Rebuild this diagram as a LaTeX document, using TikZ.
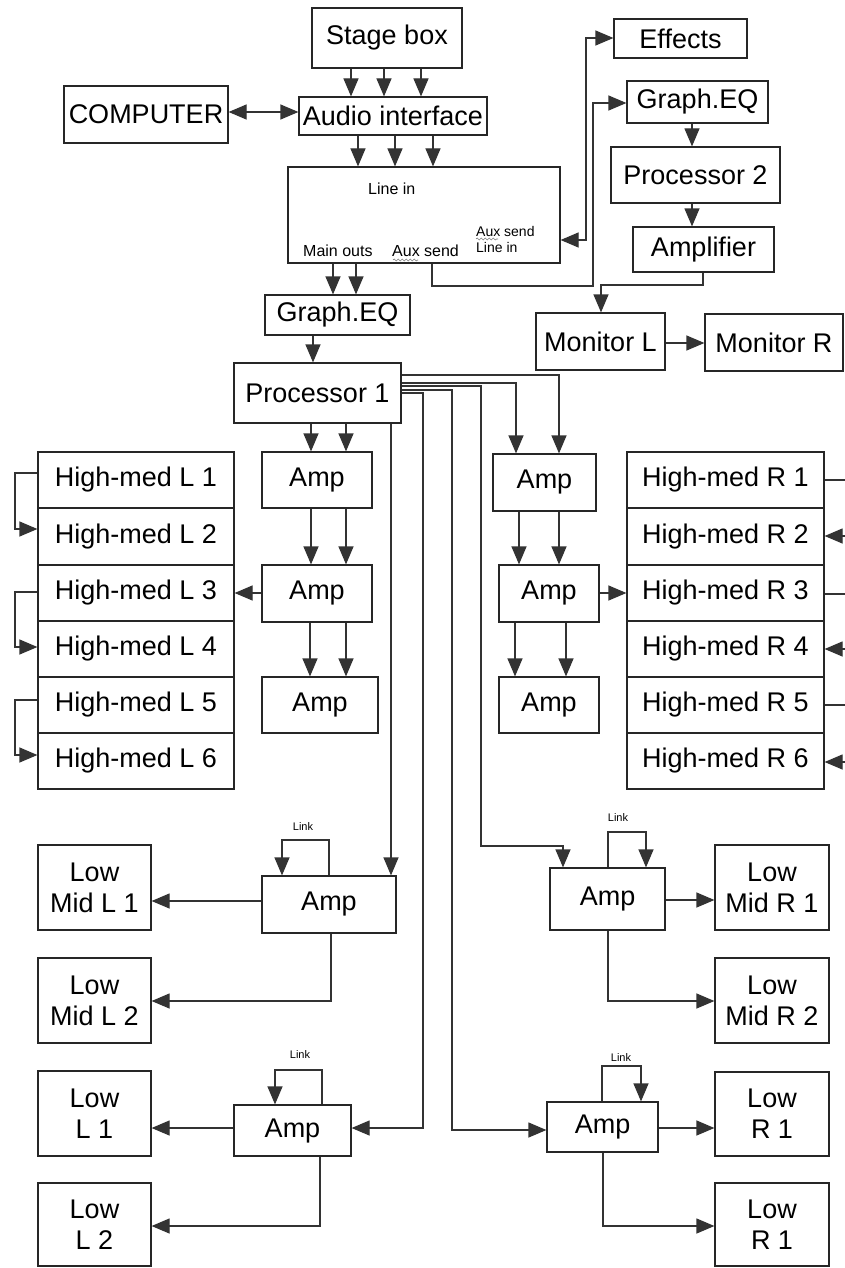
\documentclass[tikz,border=0pt]{standalone}
\usepackage{fontspec}
\setmainfont{Liberation Sans}
\usetikzlibrary{arrows.meta,decorations.pathmorphing}
\begin{document}
\begin{tikzpicture}[x=1pt,y=-1pt,
  box/.style={draw=black!85, line width=1.2pt, inner sep=0pt, font=\fontsize{27}{31}\selectfont, align=center},
  arr/.style={draw=black!80, line width=1.2pt, -{Triangle[length=18pt,width=15pt]}},
  darr/.style={draw=black!80, line width=1.2pt, {Triangle[length=18pt,width=15pt]}-{Triangle[length=18pt,width=15pt]}},
  small/.style={font=\fontsize{16}{18}\selectfont, inner sep=0pt},
  smaller/.style={font=\fontsize{14}{16}\selectfont, inner sep=0pt},
  tiny/.style={font=\fontsize{11}{13}\selectfont, inner sep=0pt},
  wavy/.style={draw=black!50, line width=0.6pt, decorate, decoration={snake, amplitude=1pt, segment length=4pt}}]
\useasboundingbox[fill=white] (0,0) rectangle (845,1268);

% ---------- top section ----------
\node[box, minimum width=150pt, minimum height=60pt] (stage) at (387,38) {Stage box};
\node[box, minimum width=188pt, minimum height=38pt] (audio) at (393,116) {Audio interface};
\node[box, minimum width=164pt, minimum height=57pt] (comp) at (146,114.5) {COMPUTER};
\node[box, minimum width=272pt, minimum height=96pt] (mixer) at (424,215) {};
\node[small, anchor=base west] (lin) at (368,195) {Line in};
\node[small, anchor=base west] (mout) at (303,256) {Main outs};
\node[small, anchor=base west] (aux) at (392,256) {Aux send};
\node[smaller, anchor=base west] (auxr) at (476,236) {Aux send};
\node[smaller, anchor=base west] (linr) at (476,252) {Line in};
\draw[wavy] (393,260) -- (418,260);
\draw[wavy] (476,239) -- (498,239);

\node[box, minimum width=133pt, minimum height=39pt] (fx) at (680.5,38.5) {Effects};
\node[box, minimum width=141pt, minimum height=42pt] (geq2) at (697.5,102) {Graph.EQ};
\node[box, minimum width=169pt, minimum height=56pt] (proc2) at (695.5,175) {Processor 2};
\node[box, minimum width=141pt, minimum height=45pt] (ampf) at (703.5,249.5) {Amplifier};
\node[box, minimum width=129pt, minimum height=57pt] (monl) at (600.5,341.5) {Monitor L};
\node[box, minimum width=138pt, minimum height=57pt] (monr) at (774,342.5) {Monitor R};

\node[box, minimum width=145pt, minimum height=40pt] (geq1) at (337.5,315) {Graph.EQ};
\node[box, minimum width=167pt, minimum height=60pt] (proc1) at (317.5,393) {Processor 1};

% ---------- amps ----------
\node[box, minimum width=110pt, minimum height=56pt] (al1) at (317,480) {Amp};
\node[box, minimum width=110pt, minimum height=57pt] (al2) at (317,593.5) {Amp};
\node[box, minimum width=116pt, minimum height=56pt] (al3) at (320,705) {Amp};
\node[box, minimum width=103pt, minimum height=57pt] (ar1) at (544.5,482.5) {Amp};
\node[box, minimum width=100pt, minimum height=57pt] (ar2) at (549,593.5) {Amp};
\node[box, minimum width=100pt, minimum height=56pt] (ar3) at (549,705) {Amp};

% ---------- high-med columns ----------
\node[box, minimum width=196pt, minimum height=56pt] (hl1) at (136,480) {High-med L 1};
\node[box, minimum width=196pt, minimum height=57pt] (hl2) at (136,536.5) {High-med L 2};
\node[box, minimum width=196pt, minimum height=56pt] (hl3) at (136,593) {High-med L 3};
\node[box, minimum width=196pt, minimum height=56pt] (hl4) at (136,649) {High-med L 4};
\node[box, minimum width=196pt, minimum height=56pt] (hl5) at (136,705) {High-med L 5};
\node[box, minimum width=196pt, minimum height=56pt] (hl6) at (136,761) {High-med L 6};
\node[box, minimum width=197pt, minimum height=56pt] (hr1) at (725.5,480) {High-med R 1};
\node[box, minimum width=197pt, minimum height=57pt] (hr2) at (725.5,536.5) {High-med R 2};
\node[box, minimum width=197pt, minimum height=56pt] (hr3) at (725.5,593) {High-med R 3};
\node[box, minimum width=197pt, minimum height=56pt] (hr4) at (725.5,649) {High-med R 4};
\node[box, minimum width=197pt, minimum height=56pt] (hr5) at (725.5,705) {High-med R 5};
\node[box, minimum width=197pt, minimum height=56pt] (hr6) at (725.5,761) {High-med R 6};

% ---------- low section ----------
\node[box, minimum width=113pt, minimum height=85pt] (lml1) at (94.5,887.5) {Low\\Mid L 1};
\node[box, minimum width=113pt, minimum height=85pt] (lml2) at (94.5,1000.5) {Low\\Mid L 2};
\node[box, minimum width=134pt, minimum height=57pt] (aml) at (329,904.5) {Amp};
\node[box, minimum width=114pt, minimum height=85pt] (lmr1) at (772,887.5) {Low\\Mid R 1};
\node[box, minimum width=114pt, minimum height=85pt] (lmr2) at (772,1000.5) {Low\\Mid R 2};
\node[box, minimum width=115pt, minimum height=62pt] (amr) at (607.5,899) {Amp};

\node[box, minimum width=113pt, minimum height=85pt] (ll1) at (94.5,1113.5) {Low\\L 1};
\node[box, minimum width=113pt, minimum height=83pt] (ll2) at (94.5,1224.5) {Low\\L 2};
\node[box, minimum width=117pt, minimum height=51pt] (all) at (292.5,1130.5) {Amp};
\node[box, minimum width=114pt, minimum height=84pt] (lr1) at (772,1114) {Low\\R 1};
\node[box, minimum width=114pt, minimum height=83pt] (lr2) at (772,1224.5) {Low\\R 1};
\node[box, minimum width=111pt, minimum height=50pt] (alr) at (602.5,1127) {Amp};

\node[tiny] (lk1) at (303,827) {Link};
\node[tiny] (lk2) at (618,818) {Link};
\node[tiny] (lk3) at (300,1055) {Link};
\node[tiny] (lk4) at (621,1058) {Link};

% ---------- connectors: top ----------
\foreach \x in {351,384,421} \draw[arr] (stage.south -| \x,0) -- (audio.north -| \x,0);
\draw[darr] (comp.east |- 0,112) -- (audio.west |- 0,112);
\foreach \x in {358,395,433} \draw[arr] (audio.south -| \x,0) -- (mixer.north -| \x,0);
\foreach \x in {333,356} \draw[arr] (mixer.south -| \x,0) -- (geq1.north -| \x,0);
\draw[arr] (geq1.south -| 313,0) -- (proc1.north -| 313,0);
\draw[darr] (mixer.east |- 0,240) -- (586,240) -- (586,38) -- (fx.west |- 0,38);
\draw[arr] (mixer.south -| 432,0) |- (593,286) |- (geq2.west |- 0,103);
\draw[arr] (geq2.south -| 692,0) -- (proc2.north -| 692,0);
\draw[arr] (proc2.south -| 692,0) -- (ampf.north -| 692,0);
\draw[arr] (ampf.south -| 703,0) |- (601,285) -- (monl.north -| 601,0);
\draw[arr] (monl.east |- 0,343) -- (monr.west |- 0,343);

% ---------- processor 1 outputs ----------
\foreach \x in {311,346} \draw[arr] (proc1.south -| \x,0) -- (al1.north -| \x,0);
\foreach \x in {311,346} \draw[arr] (al1.south -| \x,0) -- (al2.north -| \x,0);
\foreach \x in {310,346} \draw[arr] (al2.south -| \x,0) -- (al3.north -| \x,0);
\draw[arr] (al2.west |- 0,593) -- (hl3.east |- 0,593);

\draw[arr] (proc1.east |- 0,375) -| (ar1.north -| 559,0);
\draw[arr] (proc1.east |- 0,383) -| (ar1.north -| 516,0);
\draw[arr] (ar1.south -| 519,0) -- (ar2.north -| 519,0);
\draw[arr] (ar1.south -| 559,0) -- (ar2.north -| 559,0);
\draw[arr] (ar2.south -| 515,0) -- (ar3.north -| 515,0);
\draw[arr] (ar2.south -| 566,0) -- (ar3.north -| 566,0);
\draw[arr] (ar2.east |- 0,593) -- (hr3.west |- 0,593);

\draw[arr] (proc1.south -| 391,0) -- (aml.north -| 391,0);
\draw[arr] (proc1.east |- 0,386) -| (481,846) -| (amr.north -| 563,0);
\draw[arr] (proc1.east |- 0,390) -| (452,1130) -- (alr.west |- 0,1130);
\draw[arr] (proc1.east |- 0,393) -| (423,1128) -- (all.east |- 0,1128);

% ---------- high-med chains ----------
\draw[arr] (hl1.west |- 0,473) -- (15,473) -- (15,529) -- (hl2.west |- 0,529);
\draw[arr] (hl3.west |- 0,592) -- (15,592) -- (15,647) -- (hl4.west |- 0,647);
\draw[arr] (hl5.west |- 0,700) -- (15,700) -- (15,755) -- (hl6.west |- 0,755);
\draw[arr] (hr1.east |- 0,480) -- (850,480) -- (850,536) -- (hr2.east |- 0,536);
\draw[arr] (hr3.east |- 0,594) -- (850,594) -- (850,649) -- (hr4.east |- 0,649);
\draw[arr] (hr5.east |- 0,705) -- (850,705) -- (850,762) -- (hr6.east |- 0,762);

% ---------- low section connectors ----------
\draw[arr] (aml.north -| 329,0) |- (282,840) -- (aml.north -| 282,0);
\draw[arr] (aml.west |- 0,901) -- (lml1.east |- 0,901);
\draw[arr] (aml.south -| 331,0) |- (lml2.east |- 0,1001);
\draw[arr] (amr.north -| 608,0) |- (646,832) -- (amr.north -| 646,0);
\draw[arr] (amr.east |- 0,900) -- (lmr1.west |- 0,900);
\draw[arr] (amr.south -| 608,0) |- (lmr2.west |- 0,1001);

\draw[arr] (all.north -| 322,0) |- (275,1070) -- (all.north -| 275,0);
\draw[arr] (all.west |- 0,1128) -- (ll1.east |- 0,1128);
\draw[arr] (all.south -| 320,0) |- (ll2.east |- 0,1226);
\draw[arr] (alr.north -| 602,0) |- (641,1066) -- (alr.north -| 641,0);
\draw[arr] (alr.east |- 0,1128) -- (lr1.west |- 0,1128);
\draw[arr] (alr.south -| 603,0) |- (lr2.west |- 0,1226);
\end{tikzpicture}
\end{document}
